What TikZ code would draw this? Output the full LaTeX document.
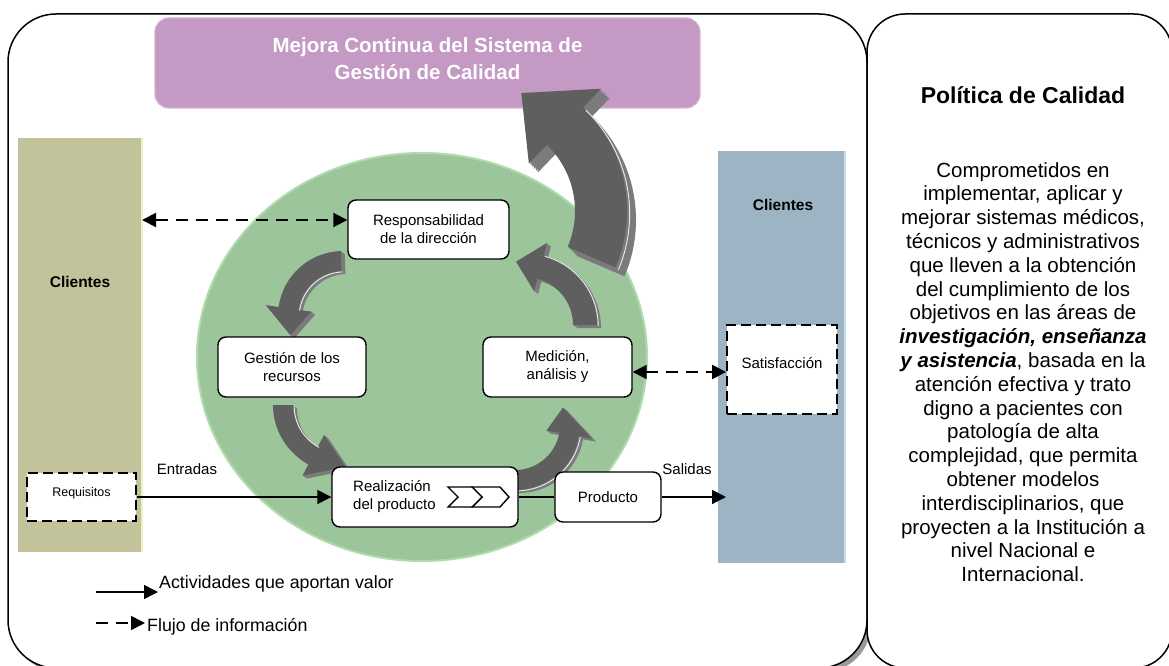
\documentclass[tikz,border=0pt]{standalone}
\usepackage{fontspec}
\setmainfont{Liberation Sans}
\usetikzlibrary{arrows.meta}
\definecolor{purp}{HTML}{C49AC4}
\definecolor{purpedge}{HTML}{D6B0D6}
\definecolor{olivecol}{HTML}{C2C39B}
\definecolor{oliveedge}{HTML}{EEF0C6}
\definecolor{bluecol}{HTML}{9DB4C5}
\definecolor{blueedge}{HTML}{C6DDEE}
\definecolor{greencirc}{HTML}{9CC59C}
\definecolor{greenedge}{HTML}{AEDCAA}
\definecolor{arrtop}{HTML}{5F5F5F}
\definecolor{arrside}{HTML}{7B7B7B}
\newcommand\setfs[2]{\fontsize{#1}{#2}\selectfont}
\newcommand\GAset[9]{\def\GAcx{#1}\def\GAcy{#2}\def\GAr{#3}\def\GAs{#4}\def\GAe{#5}\def\GAw{#6}\def\GAhw{#7}\def\GAt{#8}\def\GArt{#9}}
\newcommand\GAfill[1]{\fill[#1] plot[domain=\GAs:\GAe,samples=40,variable=\u] ({\GAcx+(\GAr+\GAw/2)*cos(\u)},{\GAcy+(\GAr+\GAw/2)*sin(\u)}) -- ({\GAcx+(\GAr+\GAhw/2)*cos(\GAe)},{\GAcy+(\GAr+\GAhw/2)*sin(\GAe)}) -- ({\GAcx+\GArt*cos(\GAt)},{\GAcy+\GArt*sin(\GAt)}) -- ({\GAcx+(\GAr-\GAhw/2)*cos(\GAe)},{\GAcy+(\GAr-\GAhw/2)*sin(\GAe)}) -- plot[domain=\GAe:\GAs,samples=40,variable=\u] ({\GAcx+(\GAr-\GAw/2)*cos(\u)},{\GAcy+(\GAr-\GAw/2)*sin(\u)}) -- cycle;}
\newcommand\GAdraw[3]{%
  \foreach \k in {0.2,0.4,0.6,0.8,1.0}{\GAfill{arrside,shift={({\k*#1},{\k*#2})}}}
  \GAfill{arrtop}
  \draw[white,opacity=0.85,line width=0.9pt] plot[domain=\GAs:\GAe,samples=40,variable=\u] ({\GAcx+(\GAr+#3)*cos(\u)+0.3*#1},{\GAcy+(\GAr+#3)*sin(\u)+0.3*#2});
}
\begin{document}
\begin{tikzpicture}[x=1pt,y=-1pt,
  wbox/.style={draw=black,line width=1.4pt,fill=white,rounded corners=8pt,inner sep=0pt,align=center,font=\setfs{15}{18}},
  dbox/.style={draw=black,line width=1.8pt,dash pattern=on 10pt off 5pt,fill=white,inner sep=0pt},
  lbl/.style={inner sep=0pt,font=\setfs{15}{18}},
  sarrow/.style={line width=1.8pt,-{Triangle[length=14pt,width=14pt]}},
  ddarrow/.style={line width=2pt,dash pattern=on 12pt off 8pt,{Triangle[length=14pt,width=14pt]}-{Triangle[length=14pt,width=14pt]}},
  colbox/.style={inner sep=0pt,anchor=north west}]
\useasboundingbox (0,0) rectangle (1169,666);
% outer frames
\begin{scope}
  \clip (0,400) rectangle (1169,700);
  \fill[black!40, rounded corners=48pt] (12,18) rectangle (871,672);
\end{scope}
\draw[line width=1.5pt, fill=white, rounded corners=48pt] (8,14) rectangle (867,668);
\draw[line width=1.5pt, fill=white, rounded corners=38pt] (867,14) rectangle (1172,668);
% purple banner
\node[fill=purp, draw=purpedge, line width=1.2pt, rounded corners=14pt, minimum width=545pt, minimum height=90pt, inner sep=0pt] (mej) at (427.5,63) {};
\node[font=\bfseries\setfs{20.5}{27}, text=white, align=center, inner sep=0pt] (mejt) at (427.5,58.5) {Mejora Continua del Sistema de\\Gestión de Calidad};
% client columns
\node[colbox, fill=olivecol, minimum width=124pt, minimum height=414pt] (lcol) at (18,138) {};
\draw[oliveedge, line width=2pt] (lcol.north east) -- (lcol.south east);
\node[colbox, fill=bluecol, minimum width=127pt, minimum height=412pt] (rcol) at (718,151) {};
\draw[blueedge, line width=2pt] (rcol.north east) -- (rcol.south east);
\node[font=\bfseries\setfs{15.5}{18}, inner sep=0pt] (lcli) at (80,282) {Clientes};
\node[font=\bfseries\setfs{15.5}{18}, inner sep=0pt] (rcli) at (783,205) {Clientes};
% green circle
\draw[fill=greencirc, draw=greenedge, line width=2pt] (422,357) ellipse [x radius=225, y radius=204];
% 3D curved arrows
\GAset{483}{211}{118}{23}{-46}{52}{104}{-72}{124}\GAdraw{9}{9}{26}
\GAset{343}{316}{55}{268}{188}{20}{46}{160}{56}\GAdraw{4}{3}{-10}
\GAset{340}{405}{57}{180}{118}{20}{46}{85}{62}\GAdraw{4}{3}{-10}
\GAset{515}{425}{55}{90}{10}{20}{46}{-20}{51}\GAdraw{4}{3}{10}
\GAset{525}{325}{60}{0}{-75}{24}{50}{-98}{64}\GAdraw{4}{3}{12}
% process boxes
\node[wbox, minimum width=161pt, minimum height=59pt] (resp) at (428.5,229.5) {Responsabilidad\\de la dirección};
\node[wbox, minimum width=148pt, minimum height=60pt] (gest) at (292,367) {Gestión de los\\recursos};
\node[wbox, minimum width=149pt, minimum height=60pt] (medi) at (557.5,367) {Medición,\\análisis y};
\node[wbox, minimum width=186pt, minimum height=60pt] (real) at (425,497) {};
\node[lbl, align=left, anchor=west] (realt) at (353,497) {Realización\\del producto};
\draw[line width=1.4pt, fill=white, line join=miter] (472,487) -- (500,487) -- (509,497) -- (500,507) -- (472,507) -- (482,497) -- cycle;
\draw[line width=1.4pt, fill=white, line join=miter] (448,487) -- (472,487) -- (482,497) -- (472,507) -- (448,507) -- (458,497) -- cycle;
\node[wbox, minimum width=106pt, minimum height=50pt] (prod) at (608,497) {Producto};
\node[dbox, minimum width=109pt, minimum height=48pt] (req) at (81.5,497) {};
\node[inner sep=0pt, font=\setfs{12.5}{15}] (reqt) at (81.5,493) {Requisitos};
\node[dbox, minimum width=110pt, minimum height=89pt] (sat) at (782,369.5) {};
\node[lbl] (satt) at (782,363) {Satisfacción};
% connectors
\coordinate (la) at (142,220);
\draw[ddarrow] (la) -- (la -| resp.west);
\coordinate (ma) at (0,372);
\draw[ddarrow] (ma -| medi.east) -- (ma -| sat.west);
\draw[sarrow] (req.east) -- (real.west);
\draw[line width=1.8pt] (real.east) -- (prod.west);
\coordinate (rtip) at (726,497);
\draw[sarrow] (prod.east) -- (rtip);
\node[lbl] (entr) at (187,469) {Entradas};
\node[lbl] (sal) at (687,469) {Salidas};
% legend
\coordinate (l1s) at (96,592);
\coordinate (l1e) at (158,592);
\draw[sarrow, line width=1.6pt] (l1s) -- (l1e);
\node[inner sep=0pt, anchor=west, font=\setfs{17.8}{20}] (leg1) at (159,584) {Actividades que aportan valor};
\coordinate (l2s) at (96,623);
\coordinate (l2e) at (145,623);
\draw[line width=1.6pt, dash pattern=on 12pt off 8pt, -{Triangle[length=14pt,width=14pt]}] (l2s) -- (l2e);
\node[inner sep=0pt, anchor=west, font=\setfs{17.8}{20}] (leg2) at (147,627) {Flujo de información};
% policy panel
\node[font=\bfseries\setfs{23}{27}, inner sep=0pt] (polt) at (1023,95) {Política de Calidad};
\node[font=\setfs{20.5}{23.8}, align=center, inner sep=0pt] (polb) at (1023,372) {Comprometidos en\\implementar, aplicar y\\mejorar sistemas médicos,\\técnicos y administrativos\\que lleven a la obtención\\del cumplimiento de los\\objetivos en las áreas de\\\textbf{\textit{investigación, enseñanza}}\\\textbf{\textit{y asistencia}}, basada en la\\atención efectiva y trato\\digno a pacientes con\\patología de alta\\complejidad, que permita\\obtener modelos\\interdisciplinarios, que\\proyecten a la Institución a\\nivel Nacional e\\Internacional.};
\end{tikzpicture}
\end{document}
